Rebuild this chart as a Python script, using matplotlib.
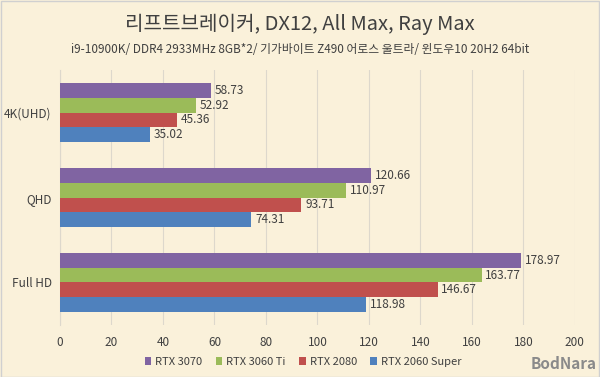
import matplotlib.pyplot as plt
import numpy as np

plt.rcParams['font.family'] = ['Noto Sans CJK KR', 'DejaVu Sans']

categories = ['4K(UHD)', 'QHD', 'Full HD']
series = ['RTX 3070', 'RTX 3060 Ti', 'RTX 2080', 'RTX 2060 Super']
values = {
    'RTX 3070': [58.73, 120.66, 178.97],
    'RTX 3060 Ti': [52.92, 110.97, 163.77],
    'RTX 2080': [45.36, 93.71, 146.67],
    'RTX 2060 Super': [35.02, 74.31, 118.98],
}
colors = ['#8064A2', '#9BBB59', '#C0504D', '#4F81BD']
xticks = [0, 20, 40, 60, 80, 100, 120, 140, 160, 180, 200]

bg = '#FAF1DA'
fig = plt.figure(figsize=(6, 3.77), dpi=100, facecolor=bg)
ax = fig.add_axes([0.1, 0.138, 0.858, 0.676])
ax.set_facecolor(bg)

y = np.arange(len(categories))
h = 0.172
for i, (s, c) in enumerate(zip(series, colors)):
    pos = y + (i - 1.5) * h
    bars = ax.barh(pos, values[s], height=h, color=c, label=s, zorder=3)
    for b, v in zip(bars, values[s]):
        ax.text(v + 1.5, b.get_y() + h / 2, f'{v:.2f}', va='center', ha='left',
                fontsize=8.5, color='#404040')

ax.set_ylim(len(categories) - 0.5, -0.5)
ax.set_yticks(y)
ax.set_yticklabels(categories, fontsize=8.5, color='#404040')
ax.set_xlim(0, 200)
ax.set_xticks(xticks)
ax.set_xticklabels([str(t) for t in xticks], fontsize=8.5, color='#404040')
ax.tick_params(length=0, pad=8)
ax.tick_params(axis='y', pad=6)
ax.grid(axis='x', color='#DDD8CC', linewidth=0.8, zorder=0)
for sp in ['top', 'right', 'bottom']:
    ax.spines[sp].set_visible(False)
ax.spines['left'].set_color('#DDD8CC')

fig.text(0.5, 0.935, '리프트브레이커, DX12, All Max, Ray Max', ha='center', va='center',
         fontsize=14.5, color='#404040')
fig.text(0.5, 0.87, 'i9-10900K/ DDR4 2933MHz 8GB*2/ 기가바이트 Z490 어로스 울트라/ 윈도우10 20H2 64bit',
         ha='center', va='center', fontsize=8.5, color='#404040')

fig.legend(loc='center', bbox_to_anchor=(0.505, 0.04), ncol=4, frameon=False,
           fontsize=8, handlelength=0.6, handleheight=0.6, columnspacing=1.2,
           handletextpad=0.35, labelcolor='#404040')
fig.text(0.995, 0.012, 'BodNara', ha='right', va='bottom', fontsize=11,
         fontweight='bold', color='#8A8A8A')

fig.patches.append(plt.Rectangle((0.001, 0.001), 0.997, 0.996, transform=fig.transFigure,
                                 fill=False, edgecolor='#D0D0D0', linewidth=1))

fig.savefig('out.png', dpi=100, facecolor=bg)
